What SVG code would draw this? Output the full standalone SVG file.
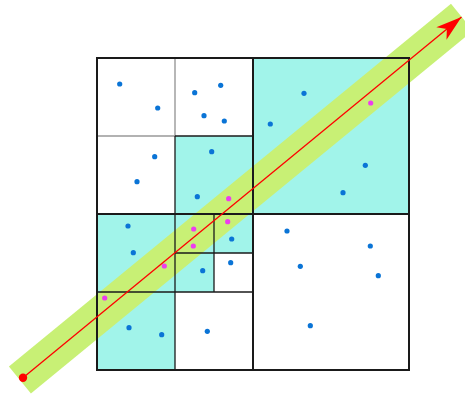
<svg xmlns="http://www.w3.org/2000/svg" width="465" height="394" viewBox="0 0 465 394">
<style>
.cell{fill:#a1f4ea;stroke:#222;stroke-width:1.2}
.g{stroke:#999;stroke-width:1.4;fill:none}
.k{stroke:#1a1a1a;stroke-width:1.3;fill:none}
.K{stroke:#1a1a1a;stroke-width:2;fill:none}
.b{fill:#0a74d6}
.m{fill:#ee3cee}
</style>
<defs>
<marker id="ah" markerUnits="userSpaceOnUse" markerWidth="30" markerHeight="20" viewBox="-28 -10 30 20" refX="0" refY="0" orient="auto">
<path d="M0,0 L-26,-8 L-19,0 L-26,8 Z" fill="#ff0000"/>
</marker>
</defs>
<rect width="465" height="394" fill="#fff"/>
<g id="cells">
<rect x="253" y="58" width="156" height="156" fill="#a1f4ea"/>
<rect x="175" y="136" width="78" height="78" fill="#a1f4ea"/>
<rect x="97" y="214" width="78" height="156" fill="#a1f4ea"/>
<rect x="175" y="214" width="78" height="39" fill="#a1f4ea"/>
<rect x="175" y="253" width="39" height="39" fill="#a1f4ea"/>
</g>
<polygon id="band" points="8.9,366.5 451,3.8 473,30.8 30.9,393.5" fill="#c8f075"/>
<g id="grid">
<line class="g" x1="175" y1="58" x2="175" y2="136"/>
<line class="g" x1="97" y1="136" x2="175" y2="136"/>
<line class="k" x1="175" y1="136" x2="253" y2="136"/>
<line class="k" x1="175" y1="136" x2="175" y2="214"/>
<line class="k" x1="175" y1="214" x2="175" y2="370"/>
<line class="k" x1="97" y1="292" x2="253" y2="292"/>
<line class="k" x1="214" y1="214" x2="214" y2="292"/>
<line class="k" x1="175" y1="253" x2="253" y2="253"/>
<line class="K" x1="253" y1="58" x2="253" y2="370"/>
<line class="K" x1="97" y1="214" x2="409" y2="214"/>
<rect class="K" x="97" y="58" width="312" height="312"/>
</g>
<g id="points">
<circle class="b" cx="119.7" cy="84" r="2.6"/>
<circle class="b" cx="157.7" cy="108" r="2.6"/>
<circle class="b" cx="194.7" cy="92.7" r="2.6"/>
<circle class="b" cx="220.7" cy="85.3" r="2.6"/>
<circle class="b" cx="204" cy="115.7" r="2.6"/>
<circle class="b" cx="224.3" cy="121" r="2.6"/>
<circle class="b" cx="154.7" cy="156.7" r="2.6"/>
<circle class="b" cx="137" cy="181.7" r="2.6"/>
<circle class="b" cx="211.7" cy="151.7" r="2.6"/>
<circle class="b" cx="197.3" cy="196.7" r="2.6"/>
<circle class="b" cx="128" cy="226" r="2.6"/>
<circle class="b" cx="133.3" cy="252.7" r="2.6"/>
<circle class="b" cx="231.7" cy="239" r="2.6"/>
<circle class="b" cx="202.7" cy="270.7" r="2.6"/>
<circle class="b" cx="230.7" cy="262.7" r="2.6"/>
<circle class="b" cx="129" cy="327.7" r="2.6"/>
<circle class="b" cx="161.7" cy="334.7" r="2.6"/>
<circle class="b" cx="207.3" cy="331.3" r="2.6"/>
<circle class="b" cx="304" cy="93.3" r="2.6"/>
<circle class="b" cx="270.3" cy="124" r="2.6"/>
<circle class="b" cx="365.3" cy="165.3" r="2.6"/>
<circle class="b" cx="343" cy="192.7" r="2.6"/>
<circle class="b" cx="287" cy="231" r="2.6"/>
<circle class="b" cx="300.3" cy="266.3" r="2.6"/>
<circle class="b" cx="370.3" cy="246" r="2.6"/>
<circle class="b" cx="378.3" cy="275.7" r="2.6"/>
<circle class="b" cx="310.3" cy="325.7" r="2.6"/>
<circle class="m" cx="228.7" cy="198.7" r="2.6"/>
<circle class="m" cx="193.7" cy="229" r="2.6"/>
<circle class="m" cx="227.7" cy="221.7" r="2.6"/>
<circle class="m" cx="193.3" cy="246" r="2.6"/>
<circle class="m" cx="164.3" cy="266" r="2.6"/>
<circle class="m" cx="104.7" cy="298" r="2.6"/>
<circle class="m" cx="370.7" cy="103" r="2.6"/>
</g>
<g id="ray">
<line x1="23" y1="377.7" x2="461.5" y2="17" stroke="#ff0000" stroke-width="1.3" marker-end="url(#ah)"/>
<circle cx="23" cy="377.7" r="4.2" fill="#ff0000"/>
</g>
</svg>
